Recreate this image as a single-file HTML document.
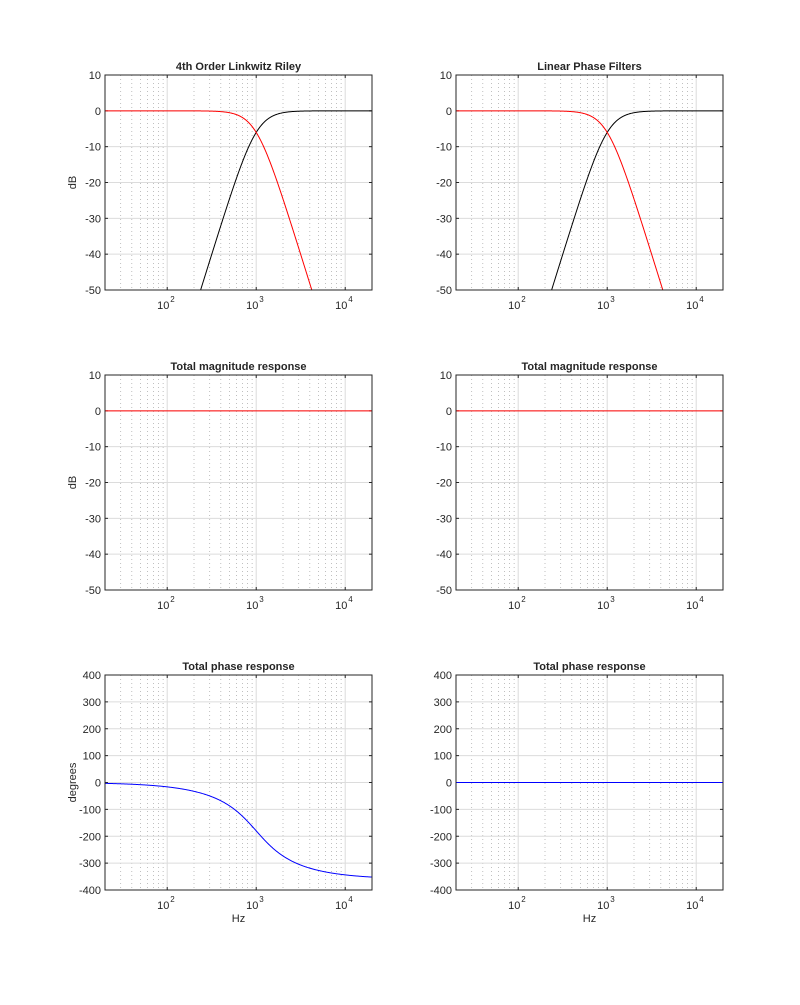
<!DOCTYPE html>
<html><head><meta charset="utf-8"><style>
body{margin:0;background:#fff;}
svg text{font-family:"Liberation Sans",sans-serif;font-size:11px;fill:#262626;}
svg text.e{font-size:8px;}
</style></head><body>
<svg id="s" width="800" height="1000" xmlns="http://www.w3.org/2000/svg"></svg>
<script>
var s=document.getElementById('s');var out='';var cid=0;
var L=[105,456],W=267,T=[75,375,675],H=215;
function fx(f,x0){return x0+ (Math.log10(f)-Math.log10(20))/3*W;}
function panel(x0,y0,title,ymin,ymax,step,ylab,xlab,series){
 cid++;
 out+='<defs><clipPath id="c'+cid+'"><rect x="'+x0+'" y="'+y0+'" width="'+W+'" height="'+H+'"/></clipPath></defs>';
 out+='<rect x="'+x0+'" y="'+y0+'" width="'+W+'" height="'+H+'" fill="#fff"/>';
 for(var d=1;d<=4;d++){for(var m=1;m<10;m++){var f=m*Math.pow(10,d);if(f<20||f>20000)continue;var x=fx(f,x0);
  if(m==1){out+='<line x1="'+x+'" y1="'+y0+'" x2="'+x+'" y2="'+(y0+H)+'" stroke="#dcdcdc" stroke-width="1"/>';
   out+='<line x1="'+x+'" y1="'+(y0+H-3)+'" x2="'+x+'" y2="'+(y0+H)+'" stroke="#262626"/><line x1="'+x+'" y1="'+y0+'" x2="'+x+'" y2="'+(y0+3)+'" stroke="#262626"/>';}
  else out+='<line x1="'+x+'" y1="'+y0+'" x2="'+x+'" y2="'+(y0+H)+'" stroke="#b0b0b0" stroke-width="0.8" stroke-dasharray="1,3"/>';}}
 var n=(ymax-ymin)/step;
 for(var i=0;i<=n;i++){var v=ymin+i*step;var y=y0+H-(v-ymin)/(ymax-ymin)*H;
  if(i>0&&i<n)out+='<line x1="'+x0+'" y1="'+y+'" x2="'+(x0+W)+'" y2="'+y+'" stroke="#dcdcdc" stroke-width="1"/>';
  out+='<line x1="'+x0+'" y1="'+y+'" x2="'+(x0+3)+'" y2="'+y+'" stroke="#262626"/>';
  out+='<line x1="'+(x0+W-3)+'" y1="'+y+'" x2="'+(x0+W)+'" y2="'+y+'" stroke="#262626"/>';
  out+='<text x="'+(x0-4)+'" y="'+(y+4)+'" text-anchor="end">'+(v<0?'-'+(-v):v)+'</text>';}
 [2,3,4].forEach(function(e){var x=fx(Math.pow(10,e),x0);
  out+='<text x="'+(x-4)+'" y="'+(y0+H+19)+'" text-anchor="middle">10</text><text class="e" x="'+(x+3)+'" y="'+(y0+H+12)+'">'+e+'</text>';});
 series.forEach(function(sr){var p='';for(var k=0;k<=600;k++){var f=20*Math.pow(1000,k/600);var v=sr.fn(f);
   if(v<ymin-5)v=ymin-5;var y=y0+H-(v-ymin)/(ymax-ymin)*H;p+=(k?'L':'M')+fx(f,x0).toFixed(2)+','+y.toFixed(2);}
  out+='<path clip-path="url(#c'+cid+')" d="'+p+'" fill="none" stroke="'+sr.c+'" stroke-width="1"/>';});
 out+='<rect x="'+x0+'" y="'+y0+'" width="'+W+'" height="'+H+'" fill="none" stroke="#262626" stroke-width="1"/>';
 out+='<text x="'+(x0+W/2)+'" y="'+(y0-5)+'" text-anchor="middle" style="font-weight:bold">'+title+'</text>';
 if(ylab)out+='<text transform="translate('+(x0-29)+','+(y0+H/2)+') rotate(-90)" text-anchor="middle">'+ylab+'</text>';
 if(xlab)out+='<text x="'+(x0+W/2)+'" y="'+(y0+H+32)+'" text-anchor="middle">Hz</text>';
}
function lp(f){var r=f/1000;return -20*Math.log10(1+Math.pow(r,4));}
function hp(f){var r=1000/f;return -20*Math.log10(1+Math.pow(r,4));}
function ph(f){var x=f/1000;var a=Math.atan2(Math.SQRT2*x,1-x*x);return -2*a*180/Math.PI;}
var mag=[{fn:hp,c:'#000'},{fn:lp,c:'#f00'}];
panel(L[0],T[0],'4th Order Linkwitz Riley',-50,10,10,'dB',false,mag);
panel(L[1],T[0],'Linear Phase Filters',-50,10,10,'',false,mag);
panel(L[0],T[1],'Total magnitude response',-50,10,10,'dB',false,[{fn:function(){return 0},c:'#f00'}]);
panel(L[1],T[1],'Total magnitude response',-50,10,10,'',false,[{fn:function(){return 0},c:'#f00'}]);
panel(L[0],T[2],'Total phase response',-400,400,100,'degrees',true,[{fn:ph,c:'#00f'}]);
panel(L[1],T[2],'Total phase response',-400,400,100,'',true,[{fn:function(){return 0},c:'#00f'}]);
s.innerHTML=out;
</script>
</body></html>
